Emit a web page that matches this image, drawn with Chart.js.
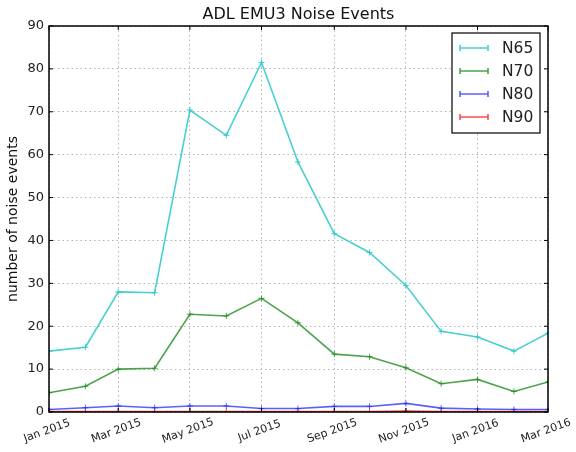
<!DOCTYPE html>
<html>
<head>
<meta charset="utf-8">
<script src="https://cdn.jsdelivr.net/npm/chart.js@4.4.0/dist/chart.umd.min.js"></script>
<style>
  html, body { margin: 0; padding: 0; background: #fff; }
  #wrap { width: 576px; height: 452px; }
</style>
</head>
<body>
<div id="wrap"><canvas id="myChart" width="576" height="452"></canvas></div>
<script>
// Months of the series (first day of each month)
const months = ['2015-01', '2015-02', '2015-03', '2015-04', '2015-05', '2015-06', '2015-07', '2015-08',
    '2015-09', '2015-10', '2015-11', '2015-12', '2016-01', '2016-02', '2016-03'];
// Values
const n65 = [14.2, 15.1, 28.0, 27.8, 70.4, 64.5, 81.5, 58.3, 41.6, 37.2, 29.5, 18.8, 17.5, 14.2, 18.4];
const n70 = [4.5, 6.0, 10.0, 10.2, 22.8, 22.4, 26.5, 20.8, 13.5, 12.9, 10.3, 6.6, 7.6, 4.8, 7.0];
const n80 = [0.6, 1.0, 1.4, 1.0, 1.4, 1.4, 0.8, 0.8, 1.3, 1.3, 2.0, 0.9, 0.7, 0.6, 0.6];
const n90 = [0.1, 0.1, 0.1, 0.1, 0.1, 0.1, 0.1, 0.1, 0.1, 0.1, 0.2, 0.1, 0.1, 0.1, 0.1];
// Tick labels on the date axis
const tickMonths = ['2015-01', '2015-03', '2015-05', '2015-07', '2015-09', '2015-11', '2016-01', '2016-03'];
const tickLabels = ['Jan 2015', 'Mar 2015', 'May 2015', 'Jul 2015', 'Sep 2015', 'Nov 2015', 'Jan 2016', 'Mar 2016'];
const chartTitle = 'ADL EMU3 Noise Events';

// Days since 1 Jan 2015 for a 'YYYY-MM' string
function dayOf(m) {
    let p = m.split('-');
    return (Date.UTC(+p[0], +p[1] - 1, 1) - Date.UTC(2015, 0, 1)) / 86400000;
}
const tickDays = tickMonths.map(dayOf);

function points(values) {
    return values.map(function (v, i) { return { x: dayOf(months[i]), y: v }; });
}

function series(label, values, color) {
    return {
        label: label,
        data: points(values),
        borderColor: color,
        backgroundColor: color,
        borderWidth: 1.6,
        tension: 0,
        pointStyle: 'cross',
        pointRadius: 3,
        pointBorderWidth: 1,
        pointHoverRadius: 3,
        fill: false
    };
}

// Title, frame, inner ticks, rotated date labels and the boxed legend
const extras = {
    id: 'extras',
    afterDraw(chart) {
        const ctx = chart.ctx;
        const a = chart.chartArea;
        const xs = chart.scales.x;
        const ys = chart.scales.y;
        ctx.save();
        // title centred over the plot
        ctx.fillStyle = '#111';
        ctx.font = '16px "DejaVu Sans"';
        ctx.textAlign = 'center';
        ctx.textBaseline = 'middle';
        ctx.fillText(chartTitle, (a.left + a.right) / 2, a.top - 11);
        // frame
        ctx.strokeStyle = '#000';
        ctx.lineWidth = 1.5;
        ctx.strokeRect(a.left, a.top, a.right - a.left, a.bottom - a.top);
        // inward ticks
        ctx.lineWidth = 1;
        ys.ticks.forEach(function (t) {
            let y = ys.getPixelForValue(t.value);
            ctx.beginPath();
            ctx.moveTo(a.left, y); ctx.lineTo(a.left + 4, y);
            ctx.moveTo(a.right, y); ctx.lineTo(a.right - 4, y);
            ctx.stroke();
        });
        tickDays.forEach(function (d) {
            let x = xs.getPixelForValue(d);
            ctx.beginPath();
            ctx.moveTo(x, a.bottom); ctx.lineTo(x, a.bottom - 4);
            ctx.moveTo(x, a.top); ctx.lineTo(x, a.top + 4);
            ctx.stroke();
        });
        // date labels
        ctx.fillStyle = '#222';
        ctx.font = '11px "DejaVu Sans"';
        tickDays.forEach(function (d, i) {
            let x = xs.getPixelForValue(d);
            ctx.save();
            ctx.translate(x - 2, a.bottom + 19);
            ctx.rotate(-20 * Math.PI / 180);
            ctx.fillText(tickLabels[i], 0, 0);
            ctx.restore();
        });
        // legend
        let lx = 452, ly = 33, lw = 88, lh = 100;
        ctx.fillStyle = '#fff';
        ctx.fillRect(lx, ly, lw, lh);
        ctx.strokeStyle = '#000';
        ctx.lineWidth = 1.2;
        ctx.strokeRect(lx, ly, lw, lh);
        ctx.font = '15.5px "DejaVu Sans"';
        ctx.textAlign = 'left';
        chart.data.datasets.forEach(function (ds, i) {
            let y = ly + 15 + i * 23;
            ctx.strokeStyle = ds.borderColor;
            ctx.lineWidth = 1.6;
            ctx.beginPath();
            ctx.moveTo(lx + 8, y); ctx.lineTo(lx + 36, y);
            ctx.moveTo(lx + 8, y - 3); ctx.lineTo(lx + 8, y + 3);
            ctx.moveTo(lx + 36, y - 3); ctx.lineTo(lx + 36, y + 3);
            ctx.stroke();
            ctx.fillStyle = '#222';
            ctx.fillText(ds.label, lx + 50, y + 1);
        });
        ctx.restore();
    }
};

Chart.defaults.font.family = '"DejaVu Sans", sans-serif';
Chart.defaults.color = '#222';

var ctx = document.getElementById('myChart').getContext('2d');
var chart = new Chart(ctx, {
    type: 'line',
    data: {
        datasets: [
            series('N65', n65, 'rgba(40, 200, 200, 0.85)'),
            series('N70', n70, 'rgba(30, 140, 30, 0.8)'),
            series('N80', n80, 'rgba(40, 40, 255, 0.75)'),
            series('N90', n90, 'rgba(255, 30, 30, 0.8)')
        ]
    },
    options: {
        responsive: false,
        animation: false,
        layout: { padding: { left: 0, right: 28, top: 26, bottom: 0 } },
        plugins: {
            legend: { display: false },
            tooltip: { enabled: false },
            title: { display: false }
        },
        scales: {
            x: {
                type: 'linear',
                min: 0,
                max: dayOf('2016-03'),
                afterBuildTicks: function (scale) {
                    scale.ticks = tickDays.map(function (d) { return { value: d }; });
                },
                afterFit: function (scale) { scale.height = 40; },
                ticks: { display: false },
                grid: { color: '#b4b4b4', lineWidth: 1, drawTicks: false },
                border: { display: false, dash: [1.5, 3] }
            },
            y: {
                min: 0,
                max: 90,
                afterFit: function (scale) { scale.width = 49; },
                ticks: { stepSize: 10, padding: 5, font: { size: 13 }, color: '#222' },
                grid: { color: '#b4b4b4', lineWidth: 1, drawTicks: false },
                border: { display: false, dash: [1.5, 3] },
                title: {
                    display: true,
                    text: 'number of noise events',
                    font: { size: 14 },
                    color: '#111',
                    padding: { top: 5, bottom: 2 }
                }
            }
        }
    },
    plugins: [extras]
});
</script>
</body>
</html>
